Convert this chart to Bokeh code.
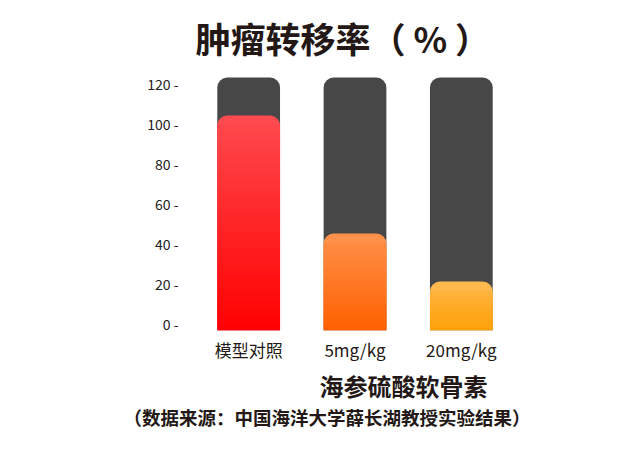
from bokeh.plotting import figure
from bokeh.models import Range1d, FactorRange, FixedTicker, Title, ColumnDataSource
from bokeh.embed import file_html
from bokeh.resources import INLINE

# ---- data ----
categories = ["模型对照", "5mg/kg", "20mg/kg"]
values = [104, 45, 21]
track_max = 123
y_ticks = [0, 20, 40, 60, 80, 100, 120]
title_text = "肿瘤转移率（ % ）"
group_text = "海参硫酸软骨素"
source_text = "（数据来源：中国海洋大学薛长湖教授实验结果）"

# ---- style ----
top_colors = ["#FF4B4F", "#FF914A", "#FFB84C"]
bottom_colors = ["#FF0000", "#FF6000", "#FF9E00"]
track_color = "#474747"
text_color = "#231815"
FONT = "Noto Sans CJK SC"
Y0 = -3.5
Y1 = 126.5
BAR_W = 0.59
RADIUS = 10

p = figure(width=624, height=437, x_range=FactorRange(*categories), y_range=Range1d(Y0, Y1),
           output_backend="svg", toolbar_location=None,
           min_border_left=195, min_border_right=110, min_border_top=70, min_border_bottom=107)
p.outline_line_color = None
p.xgrid.grid_line_color = None
p.ygrid.grid_line_color = None
p.background_fill_color = "white"
p.border_fill_color = "white"

# track bars
p.vbar(x=categories, top=[track_max] * len(categories), bottom=Y0, width=BAR_W,
       fill_color=track_color, line_color=None, border_radius=(RADIUS, RADIUS, 0, 0))

# value bars: rounded top in top colour, then gradient strips
p.vbar(x=categories, top=values, bottom=Y0, width=BAR_W,
       fill_color=top_colors, line_color=None, border_radius=(RADIUS, RADIUS, 0, 0))


def hex2rgb(h):
    h = h.lstrip("#")
    return [int(h[i:i + 2], 16) for i in (0, 2, 4)]


N = 50
xs, bots, tops, cols = [], [], [], []
for cat, v, tc, bc in zip(categories, values, top_colors, bottom_colors):
    t_rgb, b_rgb = hex2rgb(tc), hex2rgb(bc)
    y_end = v - RADIUS / 2.0
    step = (y_end - Y0) / N
    for k in range(N):
        lo = Y0 + k * step
        hi = lo + step
        f = (lo + step / 2 - Y0) / (v - Y0)
        c = tuple(int(round(b + (t - b) * f)) for t, b in zip(t_rgb, b_rgb))
        xs.append(cat)
        bots.append(lo)
        tops.append(hi + step * 0.3)
        cols.append("#%02x%02x%02x" % c)
src = ColumnDataSource(dict(x=xs, bottom=bots, top=tops, color=cols))
p.vbar(x="x", bottom="bottom", top="top", width=BAR_W, fill_color="color", line_color=None, source=src)

# axes
p.yaxis.ticker = FixedTicker(ticks=y_ticks)
p.yaxis.major_label_overrides = {t: f"{t} -" for t in y_ticks}
p.yaxis.axis_line_color = None
p.yaxis.major_tick_line_color = None
p.yaxis.minor_tick_line_color = None
p.yaxis.major_tick_out = 0
p.yaxis.major_tick_in = 0
p.yaxis.major_label_standoff = 17
p.yaxis.major_label_text_font = FONT
p.yaxis.major_label_text_font_size = "14px"
p.yaxis.major_label_text_color = "#222222"

p.xaxis.axis_line_color = None
p.xaxis.major_tick_line_color = None
p.xaxis.major_tick_out = 0
p.xaxis.major_tick_in = 0
p.xaxis.major_label_standoff = 6
p.xaxis.major_label_text_font = FONT
p.xaxis.major_label_text_font_size = "17px"
p.xaxis.major_label_text_color = text_color

# title texts
p.title.text = title_text
p.title.align = "left"
p.title.offset = 0
p.title.standoff = 16
p.title.text_font = FONT
p.title.text_font_size = "35px"
p.title.text_font_style = "bold"
p.title.text_color = text_color

p.add_layout(Title(text=group_text, align="left", offset=124, standoff=3, text_font=FONT,
                   text_font_size="24px", text_font_style="bold", text_color=text_color), "below")
p.add_layout(Title(text=source_text, align="left", offset=-72, standoff=-6, text_font=FONT,
                   text_font_size="18.5px", text_font_style="bold", text_color=text_color), "below")

open("out.html", "w").write(file_html(p, INLINE))
